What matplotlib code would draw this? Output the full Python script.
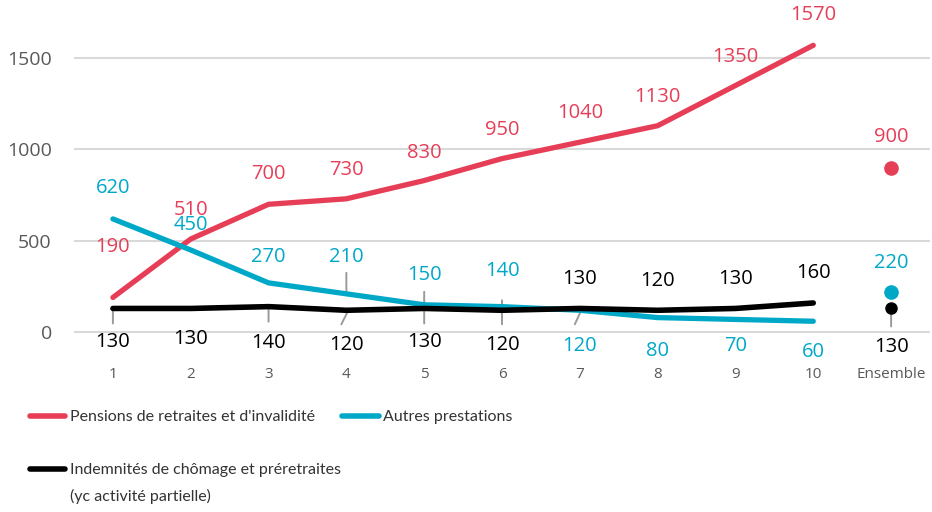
import matplotlib.pyplot as plt
from matplotlib.lines import Line2D
from matplotlib.transforms import offset_copy

# --- data -------------------------------------------------------------
deciles = ["1", "2", "3", "4", "5", "6", "7", "8", "9", "10"]
ensemble_label = "Ensemble"

pensions = [190, 510, 700, 730, 830, 950, 1040, 1130, 1350, 1570]
autres = [620, 450, 270, 210, 150, 140, 120, 80, 70, 60]
chomage = [130, 130, 140, 120, 130, 120, 130, 120, 130, 160]

pensions_ens = 900
autres_ens = 220
chomage_ens = 130

# --- style ------------------------------------------------------------
RED = "#E63E57"
BLUE = "#00A8C8"
BLACK = "#000000"
GRAY = "#595959"
LEADER = "#9a9a9a"
PX = 0.72  # points per pixel (dpi 100)

plt.rcParams["font.family"] = ["Open Sans", "DejaVu Sans"]

# vertical offsets (px) of the value labels, last one is "Ensemble"
off_pensions = [50, 29, 30, 29, 28, 29, 29, 29, 29, 30, 31]
off_autres = [31, 25, 26, 37, 30, 36, -36, -33, -27, -31, 29]
off_chomage = [-34, -31, -36, -35, -34, -35, 29, 29, 29, 30, -39]

# small leader lines: (x index, series, start offset px, end offset px)
leaders = [
    (0, chomage, (0, -2), (0, -15)),
    (2, chomage, (0, -1), (0, -15)),
    (3, chomage, (1, -2), (-5, -14)),
    (3, autres, (0, 1), (0, 21)),
    (4, autres, (0, 2), (0, 13)),
    (4, chomage, (0, -2), (0, -15)),
    (5, chomage, (0, 10), (0, -14)),
    (6, autres, (1, -1), (-5, -14)),
]

fig = plt.figure(figsize=(9.32, 5.12), dpi=100)
ax = fig.add_axes([74 / 932, 167 / 512, 856 / 932, 345 / 512])

x = list(range(1, len(deciles) + 1))
x_ens = len(deciles) + 1

ax.plot(x, pensions, color=RED, lw=3.8, solid_capstyle="round", zorder=3)
ax.plot(x, autres, color=BLUE, lw=3.8, solid_capstyle="round", zorder=4)
ax.plot(x, chomage, color=BLACK, lw=4, solid_capstyle="round", zorder=5)

ax.plot(x_ens, pensions_ens, "o", color=RED, ms=9.5, zorder=3)
ax.plot(x_ens, autres_ens, "o", color=BLUE, ms=9.5, zorder=4)

# Ensemble leader below black dot
ax.annotate("", xy=(x_ens, chomage_ens),
            xycoords=offset_copy(ax.transData, fig=fig, x=0, y=-2 * PX, units="points"),
            xytext=(0, -16 * PX), textcoords="offset points",
            arrowprops=dict(arrowstyle="-", color=LEADER, lw=1.4, shrinkA=0, shrinkB=0),
            zorder=2)
ax.plot(x_ens, chomage_ens, "o", color=BLACK, ms=8, zorder=5)

for i, s, (x0, y0), (x1, y1) in leaders:
    ax.annotate("", xy=(x[i], s[i]),
                xycoords=offset_copy(ax.transData, fig=fig, x=x0 * PX, y=y0 * PX, units="points"),
                xytext=((x1 - x0) * PX, (y1 - y0) * PX), textcoords="offset points",
                arrowprops=dict(arrowstyle="-", color=LEADER, lw=1.4, shrinkA=0, shrinkB=0),
                zorder=2)

# value labels
for series, ens, offs, col in [(pensions, pensions_ens, off_pensions, RED),
                               (autres, autres_ens, off_autres, BLUE),
                               (chomage, chomage_ens, off_chomage, BLACK)]:
    xs = x + [x_ens]
    vs = list(series) + [ens]
    for xi, v, dy in zip(xs, vs, offs):
        ax.annotate(f"{v}", xy=(xi, v), xytext=(0, dy * PX), textcoords="offset points",
                    ha="center", va="center", fontsize=14.5, color=col, zorder=6)

ax.set_xlim(0.5, 11.5)
ax.set_ylim(-70, 1818)
ax.set_xticks(x + [x_ens])
ax.set_xticklabels(deciles + [ensemble_label])
ax.set_yticks([0, 500, 1000, 1500])
ax.tick_params(axis="x", length=0, pad=16, labelsize=11, labelcolor=GRAY)
ax.tick_params(axis="y", length=0, pad=16, labelsize=14, labelcolor=GRAY)
ax.yaxis.grid(True, color="#d9d9d9", lw=1.5)
ax.set_axisbelow(True)
for sp in ax.spines.values():
    sp.set_visible(False)

# legend, drawn by hand below the chart
leg_font = ["Lato", "DejaVu Sans"]
legend_items = [
    (RED, 30, 65, 416, 70, "Pensions de retraites et d'invalidité"),
    (BLUE, 342, 379, 416, 383, "Autres prestations"),
    (BLACK, 30, 65, 469, 70, "Indemnités de chômage et préretraites\n(yc activité partielle)"),
]
for col, kx0, kx1, ky, tx, label in legend_items:
    fig.add_artist(Line2D([kx0 / 932, kx1 / 932], [1 - ky / 512, 1 - ky / 512],
                          transform=fig.transFigure, color=col, lw=4,
                          solid_capstyle="round"))
    fig.text(tx / 932, 1 - (ky - 6) / 512, label, family=leg_font, fontsize=11.5,
             color="#333333", ha="left", va="top", linespacing=1.95)

fig.savefig("out.png", dpi=100)
